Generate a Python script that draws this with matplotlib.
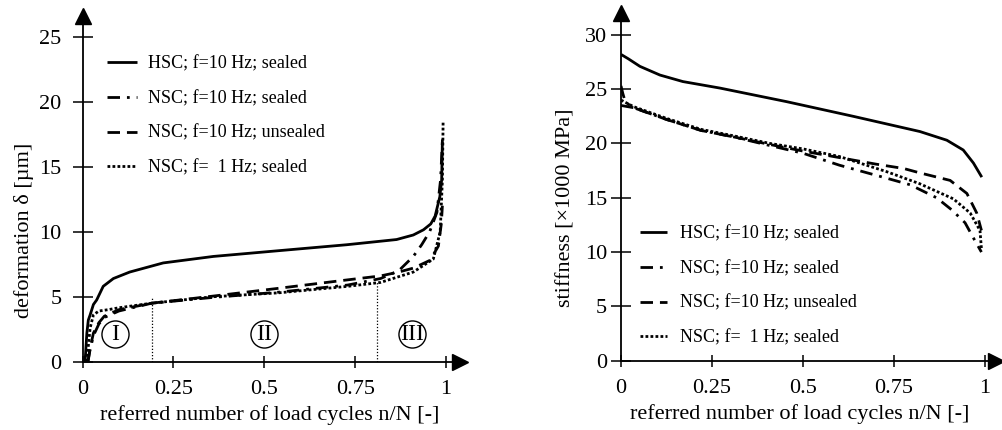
import matplotlib.pyplot as plt
import numpy as np

plt.rcParams['font.family'] = ['Liberation Serif', 'DejaVu Serif']

# ---- left chart: deformation vs n/N ----
hsc_x = [0.007, 0.012, 0.016, 0.021, 0.03, 0.039, 0.057, 0.085, 0.13, 0.222, 0.36, 0.543,
         0.727, 0.864, 0.91, 0.938, 0.958, 0.97, 0.983, 0.988, 0.99]
hsc_y = [0.0, 2.2, 3.2, 3.6, 4.4, 4.75, 5.8, 6.4, 6.9, 7.6, 8.1, 8.55,
         9.0, 9.4, 9.75, 10.15, 10.6, 11.2, 12.7, 14.0, 17.1]

nsc10_x = [0.015, 0.02, 0.03, 0.045, 0.06, 0.1, 0.19, 0.36, 0.54, 0.73, 0.82, 0.87,
           0.91, 0.933, 0.955, 0.975, 0.985, 0.99]
nsc10_y = [0.0, 0.8, 2.0, 2.9, 3.4, 3.9, 4.5, 4.95, 5.35, 5.9, 6.4, 7.0,
           8.1, 9.0, 10.0, 11.5, 14.0, 17.0]

nscun_x = [0.015, 0.02, 0.03, 0.045, 0.06, 0.1, 0.19, 0.36, 0.54, 0.73, 0.82, 0.87,
           0.91, 0.956, 0.979, 0.987, 0.99]
nscun_y = [0.0, 0.9, 2.2, 3.0, 3.5, 4.0, 4.5, 5.05, 5.65, 6.3, 6.6, 6.9,
           7.2, 7.8, 8.9, 10.6, 12.0]

nsc1_x = [0.012, 0.016, 0.021, 0.03, 0.045, 0.07, 0.1, 0.19, 0.36, 0.54, 0.73, 0.82,
          0.91, 0.965, 0.984, 0.99, 0.992]
nsc1_y = [0.0, 1.2, 2.6, 3.6, 3.9, 4.0, 4.15, 4.5, 5.0, 5.3, 5.8, 6.1,
          6.9, 7.9, 10.0, 14.0, 18.5]

# ---- right chart: stiffness vs n/N ----
s_hsc_x = [0.0, 0.02, 0.052, 0.107, 0.17, 0.272, 0.455, 0.638, 0.821, 0.895, 0.94, 0.968, 0.991]
s_hsc_y = [28.2, 27.8, 27.1, 26.3, 25.7, 25.1, 23.85, 22.5, 21.1, 20.3, 19.4, 18.2, 16.9]

s_nsc10_x = [0.0, 0.005, 0.012, 0.034, 0.126, 0.22, 0.31, 0.41, 0.5, 0.6, 0.73, 0.794,
             0.867, 0.908, 0.945, 0.968, 0.99]
s_nsc10_y = [25.3, 24.6, 23.8, 23.3, 22.2, 21.2, 20.6, 19.8, 19.1, 18.0, 16.8, 16.2,
             15.0, 13.9, 12.7, 11.3, 10.0]

s_nscun_x = [0.0, 0.034, 0.126, 0.22, 0.31, 0.41, 0.5, 0.6, 0.7, 0.776, 0.82, 0.904,
             0.95, 0.977, 0.99]
s_nscun_y = [23.5, 23.3, 22.2, 21.2, 20.6, 19.9, 19.3, 18.7, 18.1, 17.7, 17.3, 16.6,
             15.4, 13.6, 12.0]

s_nsc1_x = [0.0, 0.034, 0.126, 0.22, 0.31, 0.41, 0.5, 0.6, 0.73, 0.82, 0.913, 0.959,
            0.986, 0.99]
s_nsc1_y = [24.0, 23.4, 22.3, 21.3, 20.7, 20.0, 19.5, 18.8, 17.4, 16.3, 14.9, 13.6,
            12.0, 10.3]

labels = ['HSC; f=10 Hz; sealed', 'NSC; f=10 Hz; sealed',
          'NSC; f=10 Hz; unsealed', 'NSC; f=  1 Hz; sealed']
xticks = [0, 0.25, 0.5, 0.75, 1]
xticklabels = ['0', '0.25', '0.5', '0.75', '1']

lw = 2.0
styles = ['-', (0, (4.5, 2.5, 1, 2.5)), (0, (4.5, 2.5)), (0, (1, 0.8))]


def style_axes(ax, yticks):
    for s in ['top', 'right']:
        ax.spines[s].set_visible(False)
    for s in ['left', 'bottom']:
        ax.spines[s].set_linewidth(1.3)
    ax.set_xticks(xticks, xticklabels)
    ax.set_yticks(yticks)
    ax.tick_params(axis='x', direction='inout', length=8, width=1.1, labelsize=16, pad=9)
    ax.tick_params(axis='y', direction='inout', length=14, width=1.1, labelsize=16)
    # arrow heads
    ax.plot(1, 0, '>k', ms=11, transform=ax.transAxes, clip_on=False)
    ax.plot(0, 1, '^k', ms=11, transform=ax.transAxes, clip_on=False)


fig = plt.figure(figsize=(10.02, 4.30), dpi=100)

ax1 = fig.add_axes([82.5 / 1002, 1 - 361.7 / 430, 377.7 / 1002, 345.7 / 430])
ax1.set_xlim(0, 1.039)
ax1.set_ylim(0, 26.6)
style_axes(ax1, [0, 5, 10, 15, 20, 25])
ax1.tick_params(axis='y', pad=8)

series1 = [(hsc_x, hsc_y), (nsc10_x, nsc10_y), (nscun_x, nscun_y), (nsc1_x, nsc1_y)]
for (x, y), ls, lab in zip(series1, styles, labels):
    ax1.plot(x, y, color='k', lw=lw, ls=ls, label=lab, solid_capstyle='butt')

# phase boundaries and phase markers
ax1.plot([0.19, 0.19], [0, 4.9], color='k', lw=0.9, ls=(0, (1, 1.5)))
ax1.plot([0.81, 0.81], [0, 6.2], color='k', lw=0.9, ls=(0, (1, 1.5)))
for xp, txt in zip([0.089, 0.499, 0.906], ['I', 'II', 'III']):
    ax1.plot(xp, 2.1, 'o', ms=19.5, mfc='white', mec='k', mew=1.0)
    ax1.text(xp, 2.1, txt, ha='center', va='center', fontsize=17)

ax1.set_xlabel('referred number of load cycles n/N [-]', fontsize=16)
ax1.xaxis.set_label_coords(0.496, -0.125)
ax1.set_ylabel('deformation δ [µm]', fontsize=16, va='center')
ax1.yaxis.set_label_coords(-0.155, 0.381)

ax1.legend(loc='center left', bbox_to_anchor=(107 / 1002, 1 - 116 / 430),
           bbox_transform=fig.transFigure, frameon=False, fontsize=13,
           handlelength=1.67, handletextpad=0.6, labelspacing=0.98,
           borderpad=0, borderaxespad=0)

# ---- right chart ----
ax2 = fig.add_axes([621 / 1002, 1 - 360.7 / 430, 375 / 1002, 348.2 / 430])
ax2.set_xlim(0, 1.030)
ax2.set_ylim(0, 32.06)
style_axes(ax2, [0, 5, 10, 15, 20, 25, 30])
ax2.tick_params(axis='y', pad=3)

series2 = [(s_hsc_x, s_hsc_y), (s_nsc10_x, s_nsc10_y), (s_nscun_x, s_nscun_y), (s_nsc1_x, s_nsc1_y)]
for (x, y), ls, lab in zip(series2, styles, labels):
    ax2.plot(x, y, color='k', lw=lw, ls=ls, label=lab, solid_capstyle='butt')

ax2.set_xlabel('referred number of load cycles n/N [-]', fontsize=16)
ax2.xaxis.set_label_coords(0.477, -0.124)
ax2.set_ylabel('stiffness [×1000 MPa]', fontsize=16, va='center')
ax2.yaxis.set_label_coords(-0.147, 0.44)

ax2.legend(loc='center left', bbox_to_anchor=(640 / 1002, 1 - 286 / 430),
           bbox_transform=fig.transFigure, frameon=False, fontsize=13,
           handlelength=1.5, handletextpad=0.72, labelspacing=0.98,
           borderpad=0, borderaxespad=0)

plt.savefig('out.png', dpi=100)
